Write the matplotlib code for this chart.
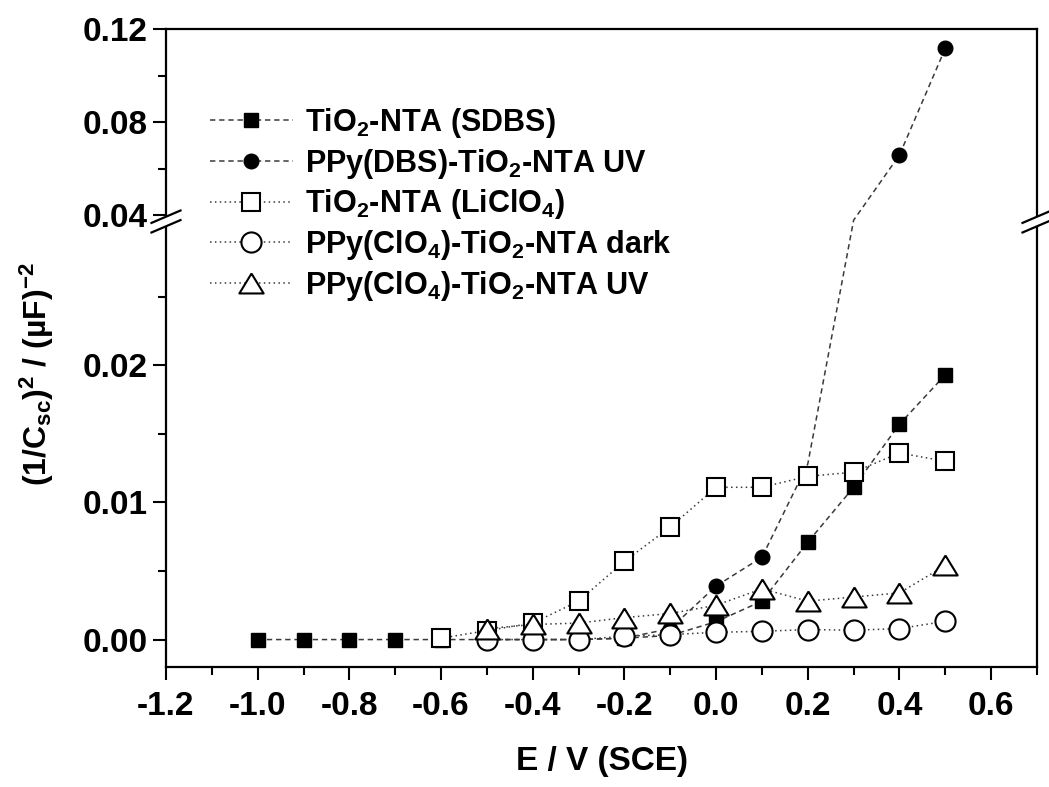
import numpy as np
import matplotlib
matplotlib.use("Agg")
import matplotlib.pyplot as plt
from matplotlib.lines import Line2D
from matplotlib.patches import Polygon
from matplotlib.ticker import FixedLocator, FormatStrFormatter

plt.rcParams['font.family'] = ['Liberation Sans', 'DejaVu Sans']
plt.rcParams['font.weight'] = 'bold'
plt.rcParams['mathtext.fontset'] = 'custom'
plt.rcParams['mathtext.rm'] = 'Liberation Sans:bold'
plt.rcParams['mathtext.bf'] = 'Liberation Sans:bold'
plt.rcParams['mathtext.it'] = 'Liberation Sans:bold'
plt.rcParams['mathtext.default'] = 'bf'
plt.rcParams['axes.unicode_minus'] = False

# ---- data: potential (V vs SCE) and (1/Csc)^2 in (uF)^-2 ----
e_sdbs = [-1.0, -0.9, -0.8, -0.7, -0.6, -0.5, -0.4, -0.3, -0.2, -0.1,
          0.0, 0.1, 0.2, 0.3, 0.4, 0.5]
c_sdbs = [0.0, 0.0, 0.0, 0.0, 0.0, 0.0, 0.0, 0.0, 0.0001, 0.0003,
          0.0013, 0.0028, 0.0071, 0.0111, 0.0157, 0.0193]

e_dbs_uv = [-0.5, -0.4, -0.3, -0.2, -0.1, 0.0, 0.1, 0.2, 0.3, 0.4, 0.5]
c_dbs_uv = [0.0, 0.0, 0.0, 0.0001, 0.0008, 0.0039, 0.0060, 0.0128,
            0.0360, 0.0658, 0.1117]
dbs_uv_marked = [0, 1, 2, 3, 4, 5, 6, 9, 10]

e_liclo4 = [-0.6, -0.5, -0.4, -0.3, -0.2, -0.1, 0.0, 0.1, 0.2, 0.3, 0.4, 0.5]
c_liclo4 = [0.0001, 0.00065, 0.0012, 0.0028, 0.0057, 0.0082, 0.0111,
            0.0111, 0.0119, 0.0122, 0.0136, 0.0130]

e_clo4_dark = [-0.5, -0.4, -0.3, -0.2, -0.1, 0.0, 0.1, 0.2, 0.3, 0.4, 0.5]
c_clo4_dark = [0.0, 0.0, 0.0, 0.00024, 0.00036, 0.00053, 0.0006, 0.00073,
               0.00068, 0.0008, 0.00133]

e_clo4_uv = [-0.5, -0.4, -0.3, -0.2, -0.1, 0.0, 0.1, 0.2, 0.3, 0.4, 0.5]
c_clo4_uv = [0.0008, 0.0011, 0.0012, 0.0016, 0.0019, 0.0025, 0.0037,
             0.0028, 0.0031, 0.0034, 0.0054]

labels = ['TiO$_2$-NTA (SDBS)',
          'PPy(DBS)-TiO$_2$-NTA UV',
          'TiO$_2$-NTA (LiClO$_4$)',
          'PPy(ClO$_4$)-TiO$_2$-NTA dark',
          'PPy(ClO$_4$)-TiO$_2$-NTA UV']

x_major = [-1.2, -1.0, -0.8, -0.6, -0.4, -0.2, 0.0, 0.2, 0.4, 0.6]
x_minor = [-1.1, -0.9, -0.7, -0.5, -0.3, -0.1, 0.1, 0.3, 0.5, 0.7]
y_major = [0.00, 0.01, 0.02, 0.04, 0.08, 0.12]
y_minor = [0.005, 0.015, 0.025, 0.06, 0.10]

# ---- broken y axis: piecewise-linear scale with a gap 0.03 .. 0.04 ----
yb = np.array([-0.002, 0.03, 0.04, 0.12])
pb = np.array([0.0, 439.0, 452.0, 638.0])


def _pw(v, xs, ys):
    v = np.asarray(v, dtype=float)
    out = np.interp(v, xs, ys)
    lo = v < xs[0]
    hi = v > xs[-1]
    s0 = (ys[1] - ys[0]) / (xs[1] - xs[0])
    s1 = (ys[-1] - ys[-2]) / (xs[-1] - xs[-2])
    out = np.where(lo, ys[0] + (v - xs[0]) * s0, out)
    out = np.where(hi, ys[-1] + (v - xs[-1]) * s1, out)
    return out


def forward(v):
    return _pw(v, yb, pb)


def inverse(v):
    return _pw(v, pb, yb)


fig = plt.figure(figsize=(10.49, 7.87), dpi=100)
ax = fig.add_axes([166 / 1049, 120 / 787, 871 / 1049, 638 / 787])
ax.set_yscale('function', functions=(forward, inverse))

dash = (0, (3.5, 2.5))
dot = (0, (1.0, 2.2))
lcol = '#3a3a3a'
lw = 1.1
tri = [(0, 0.82), (-1, -0.82), (1, -0.82), (0, 0.82)]

ax.plot(e_sdbs, c_sdbs, linestyle=dash, color=lcol, lw=lw,
        marker='s', ms=9.5, mfc='black', mec='black', label=labels[0])
ax.plot(e_dbs_uv, c_dbs_uv, linestyle=dash, color=lcol, lw=lw,
        marker='o', ms=10.5, mfc='black', mec='black',
        markevery=dbs_uv_marked, label=labels[1])
ax.plot(e_liclo4, c_liclo4, linestyle=dot, color=lcol, lw=lw,
        marker='s', ms=13.5, mfc='white', mec='black', mew=1.5,
        label=labels[2])
ax.plot(e_clo4_dark, c_clo4_dark, linestyle=dot, color=lcol, lw=lw,
        marker='o', ms=14.5, mfc='white', mec='black', mew=1.5,
        label=labels[3])
ax.plot(e_clo4_uv, c_clo4_uv, linestyle=dot, color=lcol, lw=lw,
        marker=tri, ms=17.5, mfc='white', mec='black', mew=1.5,
        label=labels[4])

ax.set_xlim(-1.2, 0.7)
ax.set_ylim(-0.002, 0.12)

ax.xaxis.set_major_locator(FixedLocator(x_major))
ax.xaxis.set_minor_locator(FixedLocator(x_minor))
ax.yaxis.set_major_locator(FixedLocator(y_major))
ax.yaxis.set_minor_locator(FixedLocator(y_minor))
ax.xaxis.set_major_formatter(FormatStrFormatter('%.1f'))
ax.yaxis.set_major_formatter(FormatStrFormatter('%.2f'))

ax.tick_params(which='both', direction='out', width=1.5, top=False,
               right=False, labelsize=24)
ax.tick_params(which='major', length=9.5)
ax.tick_params(which='minor', length=5.5)
ax.tick_params(axis='x', which='major', pad=8)
ax.tick_params(axis='y', which='major', pad=4)
for lab in ax.get_xticklabels() + ax.get_yticklabels():
    lab.set_fontweight('bold')
for sp in ax.spines.values():
    sp.set_linewidth(1.6)

ax.set_xlabel('E / V (SCE)', fontsize=24, fontweight='bold', labelpad=17)
fig.text(37 / 1049, 1 - 374 / 787,
         '(1/C$_{sc}$)$^2$ / (\u00b5F)$^{-2}$',
         rotation=90, ha='center', va='center', fontsize=23,
         fontweight='bold')

# break marks on the left and right spines
ybrk_lo = forward(0.03)
ybrk_hi = forward(0.04)
y0 = forward(-0.002)
span = forward(0.12) - y0
frac_mid = ((ybrk_lo + ybrk_hi) / 2 - y0) / span
W = fig.get_figwidth() * fig.dpi * (871 / 1049)
H = fig.get_figheight() * fig.dpi * (638 / 787)
dx = 14.5 / W
dy = 6.2 / H
sep = 4.8 / H
for xs in (0.0, 1.0):
    gap = Polygon([(xs - dx, frac_mid - sep - dy), (xs + dx, frac_mid - sep + dy),
                   (xs + dx, frac_mid + sep + dy), (xs - dx, frac_mid + sep - dy)],
                  closed=True, transform=ax.transAxes, facecolor='white',
                  edgecolor='none', clip_on=False, zorder=5)
    ax.add_patch(gap)
    for off in (-sep, sep):
        ax.add_line(Line2D([xs - dx, xs + dx],
                           [frac_mid + off - dy, frac_mid + off + dy],
                           transform=ax.transAxes, color='black', lw=1.6,
                           clip_on=False, zorder=6))

leg = ax.legend(loc='upper left', bbox_to_anchor=(44 / 871, 1 - 77 / 638),
                frameon=False, fontsize=22, handlelength=2.7,
                handletextpad=0.4, labelspacing=0.22, borderaxespad=0,
                borderpad=0)
for t in leg.get_texts():
    t.set_fontweight('bold')

fig.savefig('out.png', dpi=100)
